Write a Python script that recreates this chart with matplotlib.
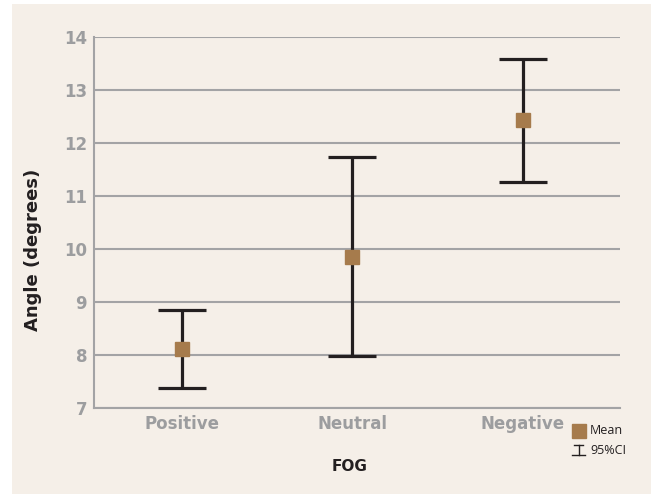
import matplotlib
matplotlib.use('Agg')
import matplotlib.pyplot as plt
from matplotlib.lines import Line2D
from matplotlib.patches import Rectangle
import numpy as np

# FOG condition means with 95% confidence limits
groups = ['Positive', 'Neutral', 'Negative']
means = [8.11, 9.85, 12.43]
ci_low = [7.38, 7.98, 11.27]
ci_high = [8.85, 11.74, 13.58]

bg = '#f5efe8'
grey = '#9c9d9f'
brown = '#a67b4c'
dark = '#231f20'
font = 'DejaVu Sans'

fig = plt.figure(figsize=(6.53, 4.94), dpi=100, facecolor='white')
fig.patches.append(Rectangle((12/653, 0), 639/653, 490/494, transform=fig.transFigure,
                             facecolor=bg, edgecolor='none', zorder=-5))

ax = fig.add_axes([94/653, 86/494, 526/653, 371/494])
ax.patch.set_alpha(0)

x = np.arange(len(groups))
means = np.array(means)
yerr = [means - np.array(ci_low), np.array(ci_high) - means]
ax.errorbar(x, means, yerr=yerr, fmt='none', ecolor=dark, elinewidth=2.3,
            capsize=17.5, capthick=2.3, zorder=3)
ax.plot(x, means, 's', color=brown, markersize=10, zorder=4)

ax.set_xlim(-0.513, 2.57)
ax.set_ylim(7, 14)
ax.set_yticks(range(7, 15))
ax.set_xticks(x)
ax.set_xticklabels(groups)
ax.grid(axis='y', color='#a3a3a5', linewidth=1.5, zorder=1)
ax.set_axisbelow(True)

for s in ['top', 'right']:
    ax.spines[s].set_visible(False)
for s in ['left', 'bottom']:
    ax.spines[s].set_color('#a3a3a5')
    ax.spines[s].set_linewidth(1.5)

ax.tick_params(length=0, pad=5, labelcolor=grey)
for lab in ax.get_xticklabels() + ax.get_yticklabels():
    lab.set_fontweight('bold')
    lab.set_fontsize(12)
    lab.set_family(font)

fig.text(350/653, 1 - 466/494, 'FOG', ha='center', va='center', fontsize=11,
         fontweight='bold', family=font, color=dark)
fig.text(33/653, 1 - 250/494, 'Angle (degrees)', ha='center', va='center', rotation=90,
         fontsize=13, fontweight='bold', family=font, color=dark)

# legend key drawn in figure coordinates
fig.add_artist(Line2D([579/653], [1 - 430.5/494], marker='s', markersize=10, color=brown,
                      transform=fig.transFigure, linestyle='none'))
fig.add_artist(Line2D([574/653, 583/653], [1 - 445/494, 1 - 445/494], color=dark, lw=1,
                      transform=fig.transFigure))
fig.add_artist(Line2D([572/653, 585/653], [1 - 455/494, 1 - 455/494], color=dark, lw=1,
                      transform=fig.transFigure))
fig.add_artist(Line2D([578.5/653, 578.5/653], [1 - 445/494, 1 - 455/494], color=dark, lw=1,
                      transform=fig.transFigure))
fig.text(590/653, 1 - 431/494, 'Mean', ha='left', va='center', fontsize=9,
         family='Open Sans', color=dark)
fig.text(590/653, 1 - 450/494, '95%CI', ha='left', va='center', fontsize=9,
         family='Open Sans', color=dark)

fig.savefig('out.png', dpi=100, facecolor='white')
